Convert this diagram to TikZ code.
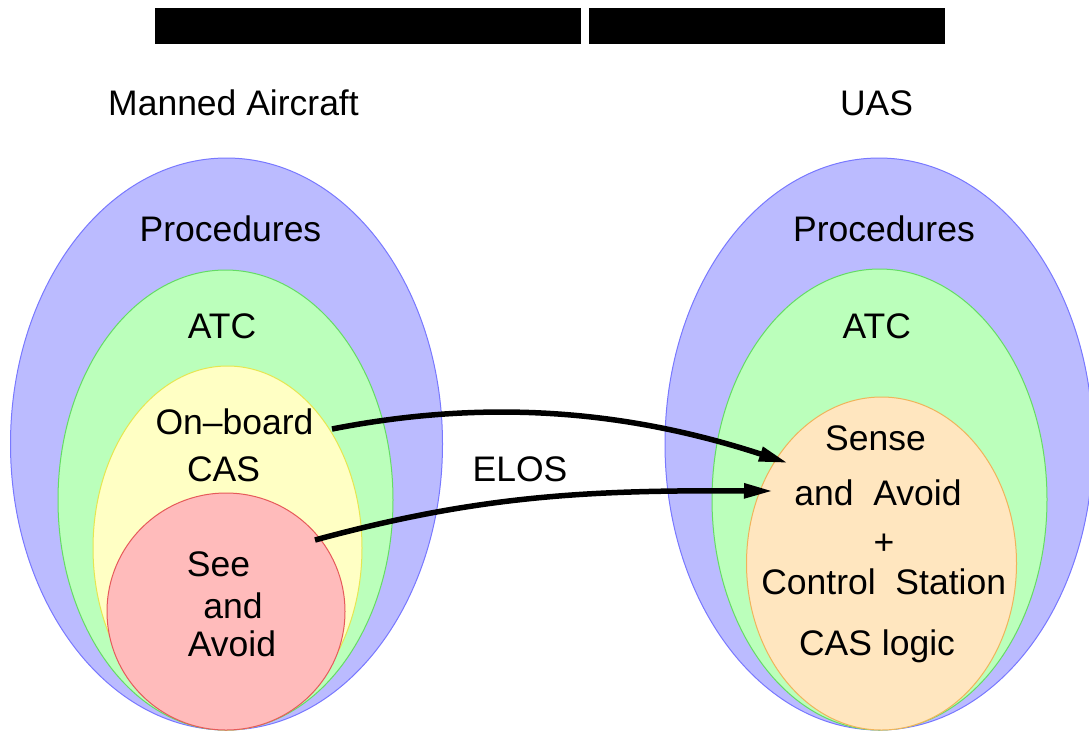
\documentclass[tikz,border=0pt]{standalone}
\usepackage{fontspec}
\setmainfont{Liberation Sans}
\usetikzlibrary{shapes.geometric,arrows.meta}

\definecolor{procFill}{RGB}{187,187,255}
\definecolor{procLine}{RGB}{120,120,255}
\definecolor{atcFill}{RGB}{187,255,187}
\definecolor{atcLine}{RGB}{100,220,100}
\definecolor{casFill}{RGB}{255,255,196}
\definecolor{casLine}{RGB}{230,230,80}
\definecolor{saaFill}{RGB}{255,187,187}
\definecolor{saaLine}{RGB}{230,90,90}
\definecolor{uasFill}{RGB}{255,230,191}
\definecolor{uasLine}{RGB}{240,180,90}

\tikzset{
  layer/.style={ellipse, draw, line width=1pt, inner sep=0pt, outer sep=0pt},
  lbl/.style={anchor=base, inner sep=0pt, font=\fontsize{35.5}{40}\selectfont},
  elos/.style={line width=5.5pt, -{Triangle[length=29pt,width=14pt]}},
}

\begin{document}
\begin{tikzpicture}[x=1pt,y=-1pt]
\useasboundingbox (0,0) rectangle (1089,732);

% black title bars
\fill[black] (155,8) rectangle (581,43.5);
\fill[black] (589,8) rectangle (945,43.5);

% headings
\node[lbl] (manned) at (233.5,115) {Manned Aircraft};
\node[lbl] (uas)    at (876.5,115) {UAS};

% manned aircraft layers
\node[layer, fill=procFill, draw=procLine, minimum width=432pt, minimum height=572pt] (procL) at (226.5,444) {};
\node[layer, fill=atcFill,  draw=atcLine,  minimum width=335pt, minimum height=460pt] (atcL)  at (225.5,500) {};
\node[layer, fill=casFill,  draw=casLine,  minimum width=269pt, minimum height=364pt] (casL)  at (227.5,548) {};
\node[layer, fill=saaFill,  draw=saaLine,  minimum width=238pt, minimum height=237pt] (saaL)  at (226,611.5) {};

% UAS layers
\node[layer, fill=procFill, draw=procLine, minimum width=428pt, minimum height=572pt] (procR) at (879,444) {};
\node[layer, fill=atcFill,  draw=atcLine,  minimum width=335pt, minimum height=461pt] (atcR)  at (879.5,499.5) {};
\node[layer, fill=uasFill,  draw=uasLine,  minimum width=270pt, minimum height=333pt] (uasR)  at (881.5,563.5) {};

% manned aircraft labels
\node[lbl] (procLt) at (230.5,241.7) {Procedures};
\node[lbl] (atcLt)  at (222,338.3) {ATC};
\node[lbl] (onboard) at (234.5,434) {On–board};
\node[lbl] (casLt)  at (223.5,481.7) {CAS};
\node[lbl] (see)    at (218.5,576.7) {See};
\node[lbl] (and)    at (233,618) {and};
\node[lbl] (avoid)  at (232,656.7) {Avoid};

% UAS labels
\node[lbl] (procRt) at (884,241.7) {Procedures};
\node[lbl] (atcRt)  at (876.7,338.3) {ATC};
\node[lbl] (sense)  at (875.5,450) {Sense};
\node[lbl] (andav)  at (878,505.7) {and\ \ Avoid};
\node[lbl] (plus)   at (884,554) {+};
\node[lbl] (ctrl)   at (883.7,594) {Control\ \ Station};
\node[lbl] (logic)  at (877,655) {CAS logic};

% equivalent level of safety
\node[lbl] (elosT) at (520,481.7) {ELOS};

\coordinate (onboardOut) at (332,429);
\coordinate (saaOut)     at (315,540);
\coordinate (senseIn)    at (788,463);
\coordinate (avoidIn)    at (773,491);

\draw[elos] (onboardOut) .. controls (480,400) and (620,408) .. (senseIn);
\draw[elos] (saaOut) .. controls (480,495) and (590,490) .. (avoidIn);
\end{tikzpicture}
\end{document}
